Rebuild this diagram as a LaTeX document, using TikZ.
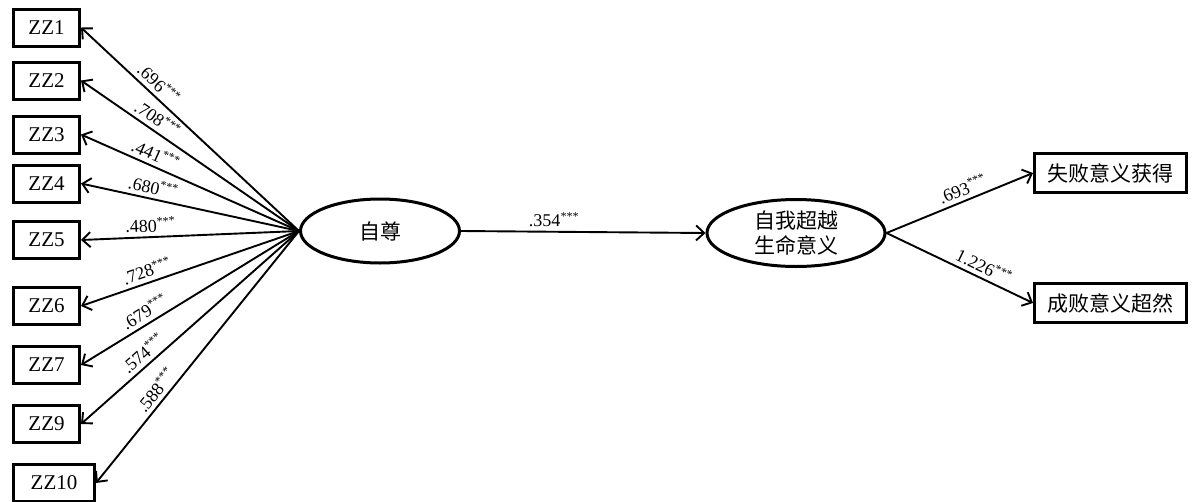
\documentclass[tikz,border=0pt]{standalone}
\usepackage{fontspec}
\setmainfont{Liberation Serif}
\newfontfamily\cjk{Noto Sans CJK SC}
\usetikzlibrary{%
    shapes,%
    arrows.meta,%
    positioning,%
    calc%
}
\newcommand{\sig}{\textsuperscript{\fontsize{12}{12}\selectfont ***}}
\tikzset{
    obsbox/.style = {draw, line width = 3pt, minimum width = 66pt, minimum height = 37pt, inner sep = 2pt, anchor = west, font = \fontsize{21}{24}\selectfont},
    cnbox/.style = {obsbox, minimum width = 152pt, minimum height = 39pt, font = \cjk\fontsize{21}{24}\selectfont},
    latent/.style = {draw, ellipse, line width = 3pt, inner sep = 0pt, align = center, font = \cjk\fontsize{21}{25}\selectfont},
    loadarrow/.style = {line width = 1.9pt, -{Straight Barb[length = 8pt, width = 15pt, line width = 1.9pt]}},
    coef/.style = {font = \fontsize{18}{20}\selectfont, sloped, above = 3pt, inner sep = 1pt, pos = 0.68}
}

\begin{document}
\begin{tikzpicture}[x = 1pt, y = -1pt]
    \useasboundingbox (0,0) rectangle (1192,501);

    % Define the latent variables
    \node[latent, minimum width = 159pt, minimum height = 64pt] (self) at (380,231) {自尊};
    \node[latent, minimum width = 178pt, minimum height = 67pt] (trans) at (796,233) {自我超越\\生命意义};

    % Define the indicators
    \node[obsbox] (zz1) at (12,27.5) {ZZ1};
    \node[obsbox] (zz2) at (12,80.5) {ZZ2};
    \node[obsbox] (zz3) at (12,134.5) {ZZ3};
    \node[obsbox] (zz4) at (12,183.5) {ZZ4};
    \node[obsbox] (zz5) at (12,240) {ZZ5};
    \node[obsbox] (zz6) at (12,306) {ZZ6};
    \node[obsbox] (zz7) at (12,365) {ZZ7};
    \node[obsbox] (zz9) at (12,424) {ZZ9};
    \node[obsbox, minimum width = 81pt] (zz10) at (12,483) {ZZ10};
    \node[cnbox] (gain) at (1033,173) {失败意义获得};
    \node[cnbox] (beyond) at (1033,303) {成败意义超然};

    % Draw the loadings
    \draw[loadarrow] (self.west) -- node[coef] {.696\sig} (zz1.east);
    \draw[loadarrow] (self.west) -- node[coef] {.708\sig} (zz2.east);
    \draw[loadarrow] (self.west) -- node[coef] {.441\sig} (zz3.east);
    \draw[loadarrow] (self.west) -- node[coef] {.680\sig} (zz4.east);
    \draw[loadarrow] (self.west) -- node[coef] {.480\sig} (zz5.east);
    \draw[loadarrow] (self.west) -- node[coef] {.728\sig} (zz6.east);
    \draw[loadarrow] (self.west) -- node[coef] {.679\sig} (zz7.east);
    \draw[loadarrow] (self.west) -- node[coef] {.574\sig} (zz9.east);
    \draw[loadarrow] (self.west) -- node[coef, pos = 0.66] {.588\sig} (zz10.east);

    % Draw the paths
    \draw[loadarrow] (self.east) -- node[coef, pos = 0.38] {.354\sig} (trans.west);
    \draw[loadarrow] (trans.east) -- node[coef, pos = 0.55] {.693\sig} (gain.west);
    \draw[loadarrow] (trans.east) -- node[coef, pos = 0.63] {1.226\sig} (beyond.west);
\end{tikzpicture}
\end{document}
